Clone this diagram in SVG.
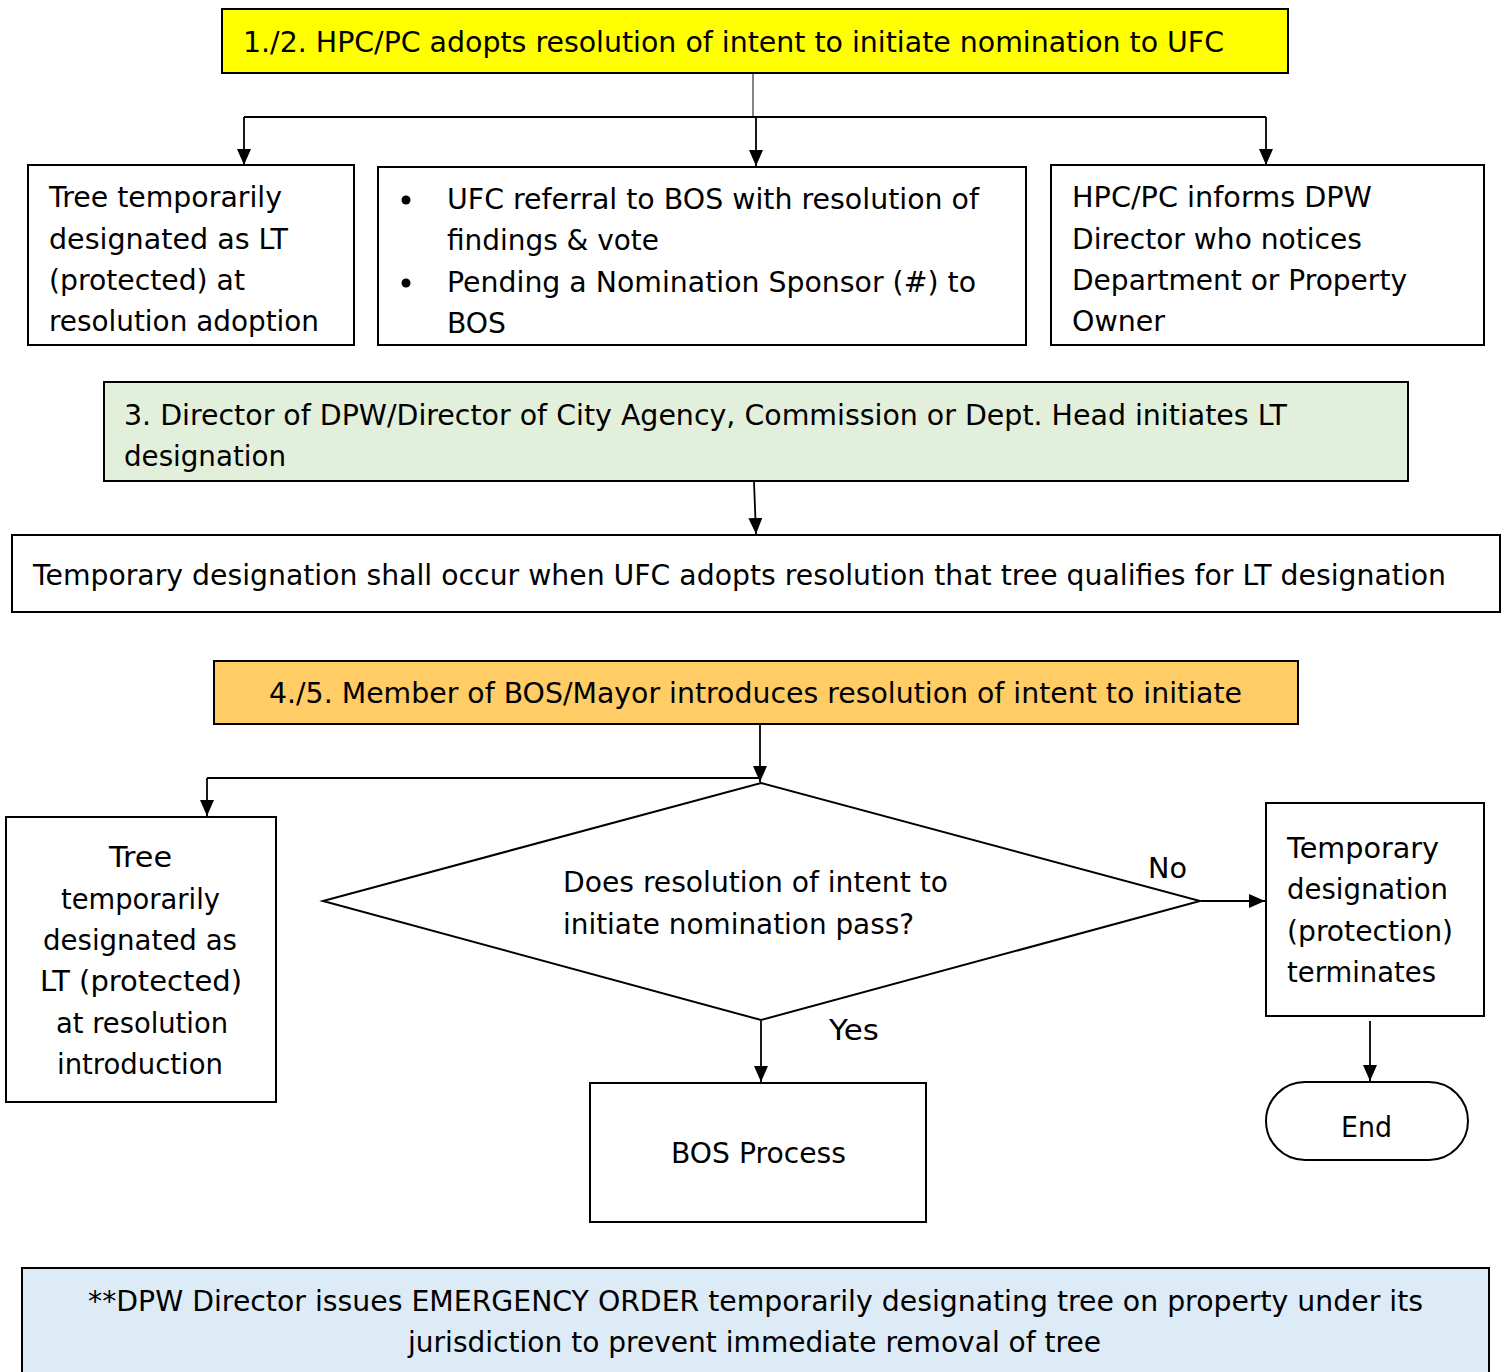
<svg xmlns="http://www.w3.org/2000/svg" width="1507" height="1372" viewBox="0 0 1507 1372">
<style>
text{font-family:"DejaVu Sans","Liberation Sans",sans-serif;font-size:29px;fill:#000}
.box{stroke:#000;stroke-width:2;fill:#fff}
.c{stroke:#000;stroke-width:1.8;fill:none}
.t{stroke:#333;stroke-width:1.2;fill:none}
</style>
<defs>
<marker id="ah" markerUnits="userSpaceOnUse" markerWidth="18" markerHeight="16" refX="16" refY="7" orient="auto">
<path d="M0,0 L16,7 L0,14 z" fill="#000"/>
</marker>
</defs>
<g id="connectors">
<path class="t" d="M753,73 V117"/>
<path class="c" d="M244,117 H1266"/>
<path class="c" d="M244,117 V165" marker-end="url(#ah)"/>
<path class="c" d="M756,117 V166" marker-end="url(#ah)"/>
<path class="c" d="M1266,117 V165" marker-end="url(#ah)"/>
<path class="c" d="M754,482 L756,534" marker-end="url(#ah)"/>
<path class="c" d="M760,725 V782" marker-end="url(#ah)"/>
<path class="c" d="M207,778 H760"/>
<path class="c" d="M207,778 V816" marker-end="url(#ah)"/>
<path class="c" d="M1201,901 H1265" marker-end="url(#ah)"/>
<path class="c" d="M761,1021 V1082" marker-end="url(#ah)"/>
<path class="c" d="M1370,1021 V1081" marker-end="url(#ah)"/>
</g>
<g id="n1">
<rect x="222" y="9" width="1066" height="64" fill="#FFFF00" stroke="#000" stroke-width="2"/>
<text x="243" y="52" textLength="981" lengthAdjust="spacingAndGlyphs">1./2. HPC/PC adopts resolution of intent to initiate nomination to UFC</text>
</g>
<g id="n2">
<rect class="box" x="28" y="165" width="326" height="180"/>
<text x="49" y="207" textLength="233" lengthAdjust="spacingAndGlyphs">Tree temporarily</text>
<text x="49" y="249" textLength="239" lengthAdjust="spacingAndGlyphs">designated as LT</text>
<text x="49" y="290" textLength="196" lengthAdjust="spacingAndGlyphs">(protected) at</text>
<text x="49" y="331" textLength="270" lengthAdjust="spacingAndGlyphs">resolution adoption</text>
</g>
<g id="n3">
<rect class="box" x="378" y="167" width="648" height="178"/>
<circle cx="406" cy="200" r="4.5" fill="#000"/>
<circle cx="406" cy="283" r="4.5" fill="#000"/>
<text x="447" y="209" textLength="532" lengthAdjust="spacingAndGlyphs">UFC referral to BOS with resolution of</text>
<text x="447" y="250" textLength="212" lengthAdjust="spacingAndGlyphs">findings &amp; vote</text>
<text x="447" y="292" textLength="529" lengthAdjust="spacingAndGlyphs">Pending a Nomination Sponsor (#) to</text>
<text x="447" y="333" textLength="59" lengthAdjust="spacingAndGlyphs">BOS</text>
</g>
<g id="n4">
<rect class="box" x="1051" y="165" width="433" height="180"/>
<text x="1072" y="207" textLength="300" lengthAdjust="spacingAndGlyphs">HPC/PC informs DPW</text>
<text x="1072" y="249" textLength="290" lengthAdjust="spacingAndGlyphs">Director who notices</text>
<text x="1072" y="290" textLength="335" lengthAdjust="spacingAndGlyphs">Department or Property</text>
<text x="1072" y="331" textLength="93" lengthAdjust="spacingAndGlyphs">Owner</text>
</g>
<g id="n5">
<rect x="104" y="382" width="1304" height="99" fill="#E2EFDA" stroke="#000" stroke-width="2"/>
<text x="124" y="425" textLength="1163" lengthAdjust="spacingAndGlyphs">3. Director of DPW/Director of City Agency, Commission or Dept. Head initiates LT</text>
<text x="124" y="466" textLength="162" lengthAdjust="spacingAndGlyphs">designation</text>
</g>
<g id="n6">
<rect class="box" x="12" y="535" width="1488" height="77"/>
<text x="33" y="585" textLength="1413" lengthAdjust="spacingAndGlyphs">Temporary designation shall occur when UFC adopts resolution that tree qualifies for LT designation</text>
</g>
<g id="n7">
<rect x="214" y="661" width="1084" height="63" fill="#FFCC66" stroke="#000" stroke-width="2"/>
<text x="269" y="703" textLength="973" lengthAdjust="spacingAndGlyphs">4./5. Member of BOS/Mayor introduces resolution of intent to initiate</text>
</g>
<g id="n8">
<path d="M761,783 L1200,901 L761,1020 L323,901 z" fill="#fff" stroke="#000" stroke-width="2"/>
<text x="563" y="892" textLength="385" lengthAdjust="spacingAndGlyphs">Does resolution of intent to</text>
<text x="563" y="934" textLength="351" lengthAdjust="spacingAndGlyphs">initiate nomination pass?</text>
</g>
<g id="n9">
<rect class="box" x="6" y="817" width="270" height="285"/>
<text x="109" y="867" textLength="63" lengthAdjust="spacingAndGlyphs">Tree</text>
<text x="61" y="909" textLength="159" lengthAdjust="spacingAndGlyphs">temporarily</text>
<text x="43" y="950" textLength="194" lengthAdjust="spacingAndGlyphs">designated as</text>
<text x="40" y="991" textLength="202" lengthAdjust="spacingAndGlyphs">LT (protected)</text>
<text x="56" y="1033" textLength="172" lengthAdjust="spacingAndGlyphs">at resolution</text>
<text x="57" y="1074" textLength="166" lengthAdjust="spacingAndGlyphs">introduction</text>
</g>
<g id="n10">
<rect class="box" x="1266" y="803" width="218" height="213"/>
<text x="1287" y="858" textLength="152" lengthAdjust="spacingAndGlyphs">Temporary</text>
<text x="1287" y="899" textLength="161" lengthAdjust="spacingAndGlyphs">designation</text>
<text x="1287" y="941" textLength="166" lengthAdjust="spacingAndGlyphs">(protection)</text>
<text x="1287" y="982" textLength="149" lengthAdjust="spacingAndGlyphs">terminates</text>
</g>
<g id="labels">
<text x="1148" y="878" textLength="39" lengthAdjust="spacingAndGlyphs">No</text>
<text x="829" y="1040" textLength="50" lengthAdjust="spacingAndGlyphs">Yes</text>
</g>
<g id="n11">
<rect class="box" x="1266" y="1082" width="202" height="78" rx="39" ry="39"/>
<text x="1341" y="1137" textLength="51" lengthAdjust="spacingAndGlyphs">End</text>
</g>
<g id="n12">
<rect class="box" x="590" y="1083" width="336" height="139"/>
<text x="671" y="1163" textLength="175" lengthAdjust="spacingAndGlyphs">BOS Process</text>
</g>
<g id="n13">
<rect x="22" y="1268" width="1467" height="110" fill="#DDEBF7" stroke="#000" stroke-width="2"/>
<text x="88" y="1311" textLength="1335" lengthAdjust="spacingAndGlyphs">**DPW Director issues EMERGENCY ORDER temporarily designating tree on property under its</text>
<text x="408" y="1352" textLength="693" lengthAdjust="spacingAndGlyphs">jurisdiction to prevent immediate removal of tree</text>
</g>
</svg>
